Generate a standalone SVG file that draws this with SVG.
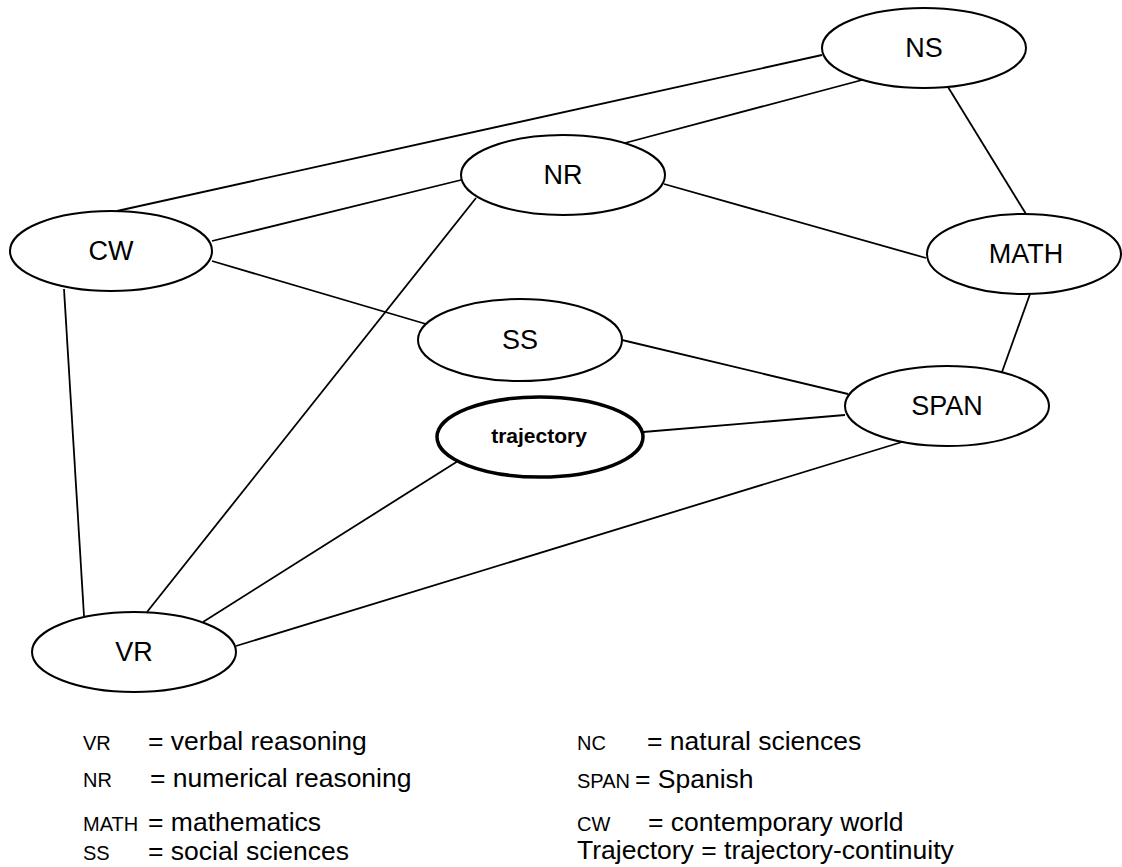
<svg xmlns="http://www.w3.org/2000/svg" width="1122" height="867" viewBox="0 0 1122 867">
<style>
.n{fill:#fff;stroke:#000;stroke-width:2}
.t{fill:#fff;stroke:#000;stroke-width:3.5}
.l{font-family:"Liberation Sans",Arial,sans-serif;font-size:27px;text-anchor:middle;fill:#000}
.lb{font-family:"Liberation Sans",Arial,sans-serif;font-size:21px;font-weight:bold;text-anchor:middle;fill:#000}
.c line{stroke:#000;stroke-width:1.8}
.g{font-family:"Liberation Sans",Arial,sans-serif;font-size:26.5px;fill:#000}
.s{font-family:"Liberation Sans",Arial,sans-serif;font-size:20px;fill:#000}
</style>
<rect width="1122" height="867" fill="#fff"/>
<g id="connectors" class="c">
<line x1="117" y1="211" x2="822" y2="55"/>
<line x1="625" y1="143" x2="862" y2="80"/>
<line x1="948" y1="87" x2="1026" y2="214"/>
<line x1="212" y1="241" x2="461" y2="180"/>
<line x1="664" y1="184" x2="926" y2="258"/>
<line x1="212" y1="261" x2="426" y2="324"/>
<line x1="622" y1="340" x2="848" y2="394"/>
<line x1="1030" y1="294" x2="1002" y2="372"/>
<line x1="643" y1="432" x2="845" y2="415"/>
<line x1="458" y1="461" x2="203" y2="622"/>
<line x1="476" y1="198" x2="147" y2="612"/>
<line x1="64" y1="289" x2="84" y2="616"/>
<line x1="236" y1="646" x2="902" y2="442"/>
</g>
<g id="NS"><ellipse class="n" cx="924" cy="48" rx="102" ry="40"/><text class="l" x="924" y="57">NS</text></g>
<g id="NR"><ellipse class="n" cx="563" cy="175" rx="102" ry="40"/><text class="l" x="563" y="184">NR</text></g>
<g id="CW"><ellipse class="n" cx="111" cy="251" rx="101" ry="40"/><text class="l" x="111" y="260">CW</text></g>
<g id="MATH"><ellipse class="n" cx="1024" cy="254" rx="97" ry="40"/><text class="l" x="1026" y="263">MATH</text></g>
<g id="SS"><ellipse class="n" cx="520" cy="340" rx="102" ry="41"/><text class="l" x="520" y="349">SS</text></g>
<g id="SPAN"><ellipse class="n" cx="947" cy="406" rx="102" ry="40"/><text class="l" x="947" y="415">SPAN</text></g>
<g id="trajectory"><ellipse class="t" cx="540" cy="437" rx="103" ry="40"/><text class="lb" x="539" y="443">trajectory</text></g>
<g id="VR"><ellipse class="n" cx="134" cy="652" rx="102" ry="40"/><text class="l" x="134" y="661">VR</text></g>
<g id="legend">
<text class="s" x="83" y="750">VR</text><text class="g" x="148" y="750">= verbal reasoning</text>
<text class="s" x="83" y="787">NR</text><text class="g" x="150" y="787">= numerical reasoning</text>
<text class="s" x="83" y="831">MATH</text><text class="g" x="148" y="831">= mathematics</text>
<text class="s" x="83" y="860">SS</text><text class="g" x="148" y="860">= social sciences</text>
<text class="s" x="577" y="750">NC</text><text class="g" x="647" y="750">= natural sciences</text>
<text class="s" x="577" y="788">SPAN</text><text class="g" x="635" y="788">= Spanish</text>
<text class="s" x="577" y="831">CW</text><text class="g" x="648" y="831">= contemporary world</text>
<text class="g" x="577" y="859">Trajectory = trajectory-continuity</text>
</g>
</svg>
